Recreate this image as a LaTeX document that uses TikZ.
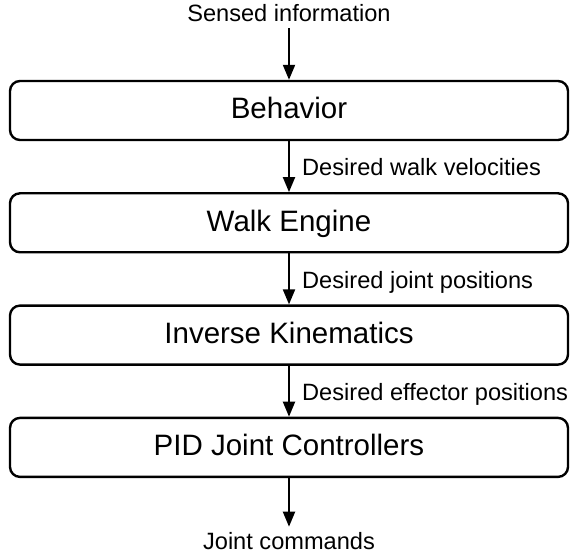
\documentclass[tikz,border=0pt]{standalone}
\usepackage{fontspec}
\setmainfont{Liberation Sans}
\usetikzlibrary{arrows.meta}

\begin{document}
\begin{tikzpicture}[x=1pt, y=-1pt,
    block/.style={draw, rounded corners=10pt, line width=2.4pt, minimum width=558pt, minimum height=59pt,
                  inner sep=0pt, text height=17pt, text depth=0pt, font=\fontsize{29.5}{34}\selectfont},
    lbl/.style={inner sep=0pt, font=\fontsize{23.6}{28}\selectfont},
    flow/.style={line width=2pt, -{Triangle[length=15pt, width=12pt]}}]
    \useasboundingbox (0,0) rectangle (571,556);
            \foreach \txt [count=\i] in {Behavior, Walk Engine, Inverse Kinematics, PID Joint Controllers} {
                \pgfmathsetmacro{\y}{110.5 + (\i - 1)*112.3}
                \node[block] (B\i) at (289, \y) {\txt};
            }
            \foreach \txt [count=\i] in {Desired walk velocities, Desired joint positions, Desired effector positions} {
                \pgfmathtruncatemacro{\j}{\i + 1}
                \pgfmathsetmacro{\y}{176 + (\i - 1)*112.3}
                \draw[flow] (B\i) -- (B\j);
                \node[lbl, anchor=base west] (D\i) at (302, \y) {\txt};
            }
            \node[lbl, anchor=base] (in) at (289, 22) {Sensed information};
            \node[lbl, anchor=base] (out) at (289, 549) {Joint commands};
            \draw[flow, shorten <=6pt] (in) -- (B1);
            \draw[flow, shorten >=5pt] (B4) -- (out);

        \end{tikzpicture}
\end{document}
